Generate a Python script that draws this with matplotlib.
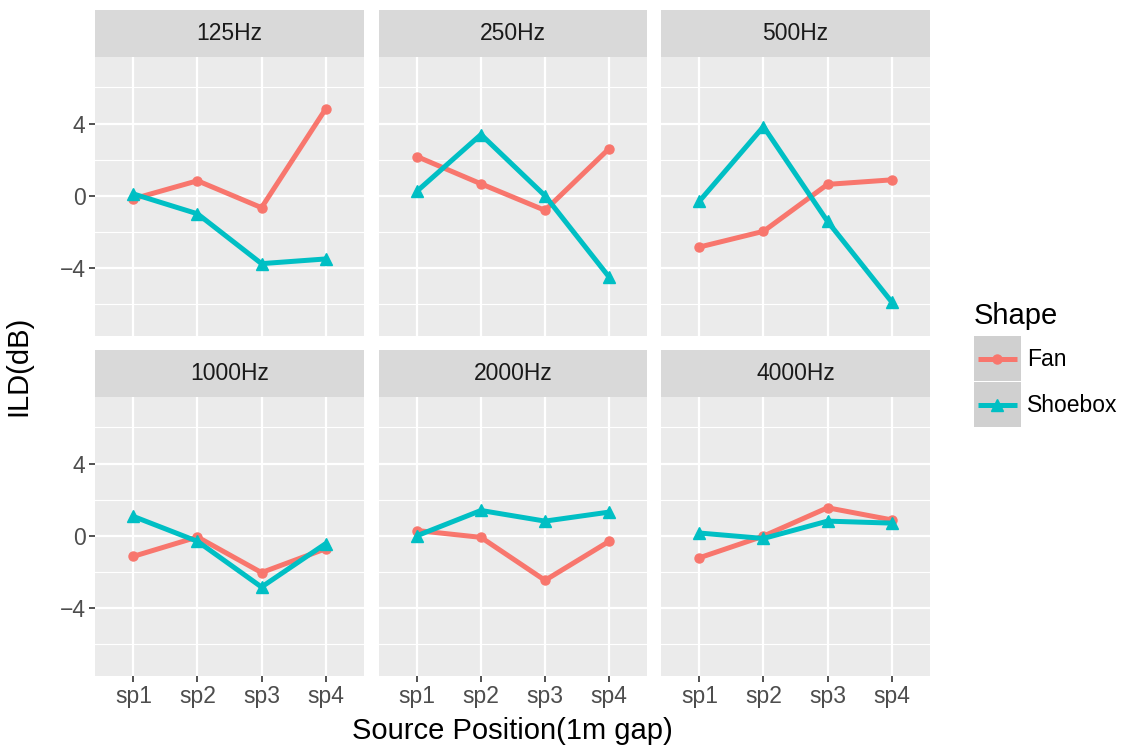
import numpy as np
import matplotlib.pyplot as plt
from matplotlib.patches import Rectangle
from matplotlib.lines import Line2D

plt.rcParams['font.family'] = ['Liberation Sans', 'DejaVu Sans']

# datos
posiciones = ['sp1', 'sp2', 'sp3', 'sp4']
frecuencias = ['125Hz', '250Hz', '500Hz', '1000Hz', '2000Hz', '4000Hz']
fan = [
    [-0.17, 0.83, -0.66, 4.80],
    [2.17, 0.66, -0.81, 2.61],
    [-2.84, -1.97, 0.63, 0.88],
    [-1.14, -0.07, -2.04, -0.72],
    [0.29, -0.09, -2.47, -0.31],
    [-1.22, -0.02, 1.55, 0.88],
]
shoebox = [
    [0.10, -1.00, -3.76, -3.50],
    [0.25, 3.39, 0.00, -4.50],
    [-0.30, 3.83, -1.42, -5.87],
    [1.07, -0.31, -2.84, -0.44],
    [0.00, 1.40, 0.81, 1.31],
    [0.15, -0.15, 0.81, 0.70],
]
formas = ['Fan', 'Shoebox']
colores = {'Fan': '#F8766D', 'Shoebox': '#00BFC4'}
marcadores = {'Fan': 'o', 'Shoebox': '^'}
tamanos = {'Fan': 6.5, 'Shoebox': 9}

W, H = 1126, 749
fig = plt.figure(figsize=(W / 100, H / 100), dpi=100)

def caja(x0, y0, x1, y1):
    # pixeles -> coordenadas de figura
    return [x0 / W, 1 - y1 / H, (x1 - x0) / W, (y1 - y0) / H]

cols = [95, 378.5, 661]
ancho = 269
filas = [(10, 56.7, 335.7), (350, 396.7, 675.7)]
x = np.arange(1, 5)

for k, frec in enumerate(frecuencias):
    fila, col = divmod(k, 3)
    ys, yt, yb = filas[fila]
    x0 = cols[col]
    ax = fig.add_axes(caja(x0, yt, x0 + ancho, yb))
    ax.set_facecolor('#EBEBEB')
    for s in ax.spines.values():
        s.set_visible(False)
    ax.set_xlim(0.4, 4.6)
    ax.set_ylim(-7.75, 7.7)
    ax.set_yticks([-4, 0, 4])
    ax.set_yticks([-6, -2, 2, 6], minor=True)
    ax.set_xticks(x)
    ax.grid(which='major', color='white', linewidth=1.6)
    ax.grid(which='minor', axis='y', color='white', linewidth=0.8)
    ax.set_axisbelow(True)
    ax.tick_params(which='minor', length=0)
    ax.tick_params(which='major', length=4.3, width=1.2, color='#333333',
                   labelcolor='#4D4D4D', labelsize=16.5, pad=2.5)
    if fila == 1:
        ax.set_xticklabels(posiciones)
    else:
        ax.set_xticklabels([])
        ax.tick_params(axis='x', length=0)
    if col == 0:
        ax.set_yticklabels(['\u22124', '0', '4'])
    else:
        ax.set_yticklabels([])
        ax.tick_params(axis='y', length=0)

    for forma, datos in zip(formas, [fan[k], shoebox[k]]):
        ax.plot(x, datos, color=colores[forma], linewidth=3.6,
                marker=marcadores[forma], markersize=tamanos[forma],
                solid_capstyle='butt')

    # tira con el titulo
    tira = fig.add_axes(caja(x0, ys, x0 + ancho, yt))
    tira.set_facecolor('#D9D9D9')
    tira.set_xticks([])
    tira.set_yticks([])
    for s in tira.spines.values():
        s.set_visible(False)
    tira.text(0.5, 0.5, frec, ha='center', va='center', fontsize=16.5,
              color='#1A1A1A', transform=tira.transAxes)

fig.text(0.5 * (95 + 930) / W, 1 - 731 / H, 'Source Position(1m gap)',
         ha='center', va='center', fontsize=21)
fig.text(18 / W, 1 - 366 / H, 'ILD(dB)', ha='center', va='center',
         rotation=90, fontsize=21)

# leyenda
ley = fig.add_axes([0, 0, 1, 1], facecolor='none')
ley.set_xlim(0, W)
ley.set_ylim(H, 0)
ley.axis('off')
ley.text(974, 316, 'Shape', fontsize=21, va='center', ha='left')
for i, forma in enumerate(formas):
    y0 = 336 + i * 46
    ley.add_patch(Rectangle((974, y0), 46.5, 44.5, facecolor='#D0D0D0',
                            edgecolor='none'))
    ley.add_line(Line2D([978, 1016.5], [y0 + 22.5, y0 + 22.5],
                        color=colores[forma], linewidth=3.6,
                        solid_capstyle='butt'))
    ley.plot([997.25], [y0 + 22.5], marker=marcadores[forma],
             markersize=tamanos[forma], color=colores[forma])
    ley.text(1027, y0 + 23, forma, fontsize=16.5, va='center', ha='left')

fig.savefig('out.png', dpi=100)
